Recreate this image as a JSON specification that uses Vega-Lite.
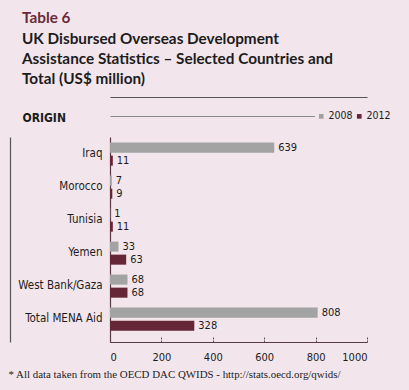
{
  "$schema": "https://vega.github.io/schema/vega-lite/v6.json",
  "width": 257,
  "height": 205,
  "autosize": "none",
  "padding": {"left": 110, "top": 137, "right": 42, "bottom": 48},
  "background": "#f2e6ec",
  "title": {
    "text": "Table 6",
    "subtitle": ["UK Disbursed Overseas Development", "Assistance Statistics – Selected Countries and", "Total (US$ million)"],
    "anchor": "start",
    "frame": "group",
    "dx": -88,
    "font": "Lato",
    "fontSize": 15.3,
    "fontWeight": "bold",
    "color": "#6b2a3a",
    "subtitleFont": "Lato",
    "subtitleFontSize": 15.3,
    "subtitleFontWeight": "bold",
    "subtitleColor": "#1c1c1c",
    "subtitleLineHeight": 20,
    "subtitlePadding": 5,
    "offset": 10
  },
  "data": {
    "values": [
      {"origin": "Iraq", "year": "2008", "value": 639},
      {"origin": "Iraq", "year": "2012", "value": 11},
      {"origin": "Morocco", "year": "2008", "value": 7},
      {"origin": "Morocco", "year": "2012", "value": 9},
      {"origin": "Tunisia", "year": "2008", "value": 1},
      {"origin": "Tunisia", "year": "2012", "value": 11},
      {"origin": "Yemen", "year": "2008", "value": 33},
      {"origin": "Yemen", "year": "2012", "value": 63},
      {"origin": "West Bank/Gaza", "year": "2008", "value": 68},
      {"origin": "West Bank/Gaza", "year": "2012", "value": 68},
      {"origin": "Total MENA Aid", "year": "2008", "value": 808},
      {"origin": "Total MENA Aid", "year": "2012", "value": 328}
    ]
  },
  "config": {
    "view": {"stroke": null},
    "font": "DejaVu Sans Condensed"
  },
  "resolve": {"axis": {"x": "independent", "y": "independent"}},
  "layer": [
    {
      "mark": {"type": "bar"},
      "encoding": {
        "y": {
          "field": "origin", "type": "nominal",
          "sort": ["Iraq", "Morocco", "Tunisia", "Yemen", "West Bank/Gaza", "Total MENA Aid"],
          "scale": {"paddingInner": 0.3, "paddingOuter": 0.256, "align": 0.33},
          "axis": {
            "title": "ORIGIN", "titleAngle": 0, "titleX": -88, "titleY": -16,
            "titleAlign": "left", "titleBaseline": "alphabetic",
            "titleFont": "DejaVu Sans Condensed", "titleFontSize": 12, "titleFontWeight": "bold", "titleColor": "#1c1c1c",
            "labelFont": "DejaVu Sans Condensed", "labelFontSize": 11.5, "labelColor": "#1c1c1c", "labelPadding": 8,
            "ticks": false, "domainColor": "#5a3a46", "domainWidth": 1.2
          }
        },
        "yOffset": {"field": "year", "type": "nominal", "scale": {"paddingInner": 0.23}},
        "x": {
          "field": "value", "type": "quantitative",
          "scale": {"domain": [0, 1000], "nice": false},
          "axis": {
            "values": [0, 200, 400, 600, 800, 1000], "format": "d", "grid": false,
            "tickSize": -5, "tickColor": "#555555", "tickDash": [2, 1],
            "domainColor": "#5a3a46", "domainWidth": 1.2,
            "labelFont": "DejaVu Sans Condensed", "labelFontSize": 11, "labelColor": "#1c1c1c", "labelPadding": 14,
            "title": "* All data taken from the OECD DAC QWIDS - http://stats.oecd.org/qwids/",
            "titleFont": "Liberation Serif", "titleFontSize": 10.9, "titleFontWeight": "normal", "titleColor": "#1c1c1c",
            "titleX": -102, "titleY": 35, "titleAlign": "left", "titleBaseline": "alphabetic", "titleAnchor": "start"
          }
        },
        "color": {
          "field": "year", "type": "nominal",
          "scale": {"domain": ["2008", "2012"], "range": ["#a3a3a3", "#652637"]},
          "legend": {
            "title": null, "orient": "none", "legendX": 205, "legendY": -27, "direction": "horizontal",
            "symbolType": "square", "symbolSize": 22, "symbolStrokeWidth": 0,
            "labelFont": "DejaVu Sans Condensed", "labelFontSize": 10.5, "labelColor": "#1c1c1c",
            "labelOffset": 2, "columnPadding": 1, "fillColor": "#f2e6ec", "padding": 1
          }
        }
      }
    },
    {
      "transform": [{"filter": "datum.year == '2008'"}],
      "mark": {"type": "text", "align": "left", "dx": 4, "baseline": "middle", "font": "DejaVu Sans Condensed", "fontSize": 11, "color": "#1c1c1c"},
      "encoding": {
        "y": {
          "field": "origin", "type": "nominal",
          "sort": ["Iraq", "Morocco", "Tunisia", "Yemen", "West Bank/Gaza", "Total MENA Aid"],
          "axis": {"orient": "left", "offset": 100, "labels": false, "ticks": false, "title": null, "domainColor": "#555555", "domainWidth": 1.2}
        },
        "yOffset": {"field": "year", "type": "nominal"},
        "x": {
          "field": "value", "type": "quantitative",
          "axis": {"orient": "top", "offset": 21, "labels": false, "ticks": false, "grid": false, "title": null, "domainColor": "#8a8a8a", "domainWidth": 1.2}
        },
        "text": {"field": "value", "type": "quantitative"}
      }
    },
    {
      "transform": [{"filter": "datum.year == '2012'"}],
      "mark": {"type": "text", "align": "left", "dx": 4, "baseline": "middle", "font": "DejaVu Sans Condensed", "fontSize": 11, "color": "#1c1c1c"},
      "encoding": {
        "y": {
          "field": "origin", "type": "nominal",
          "sort": ["Iraq", "Morocco", "Tunisia", "Yemen", "West Bank/Gaza", "Total MENA Aid"],
          "axis": null
        },
        "yOffset": {"field": "year", "type": "nominal"},
        "x": {
          "field": "value", "type": "quantitative",
          "axis": {"orient": "top", "offset": 40, "labels": false, "ticks": false, "grid": false, "title": null, "domainColor": "#555555", "domainWidth": 1}
        },
        "text": {"field": "value", "type": "quantitative"}
      }
    }
  ]
}
